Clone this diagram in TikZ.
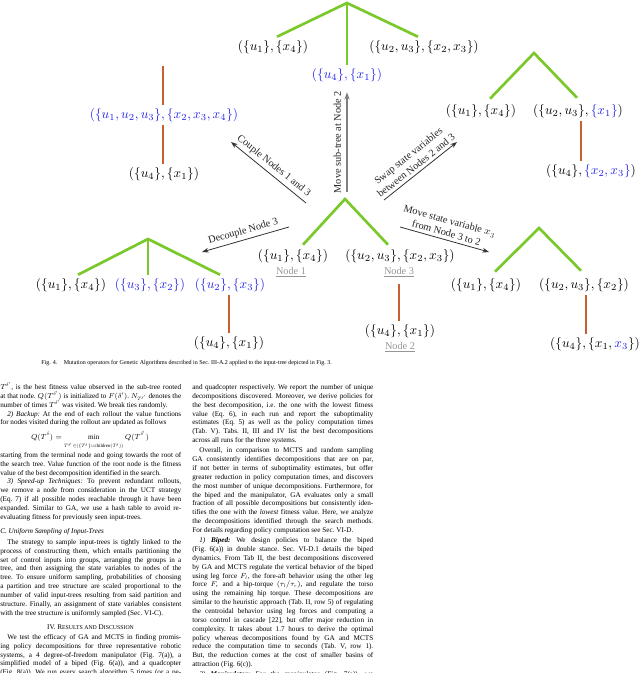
\documentclass[tikz,border=0pt]{standalone}
\usepackage{fontspec}
\setmainfont{Liberation Serif}
\usetikzlibrary{arrows.meta,calc}
\DeclareFontShape{OML}{cmm}{m}{it}{<-10>cmmi7<10->cmmi10}{}
\DeclareFontShape{OMS}{cmsy}{m}{n}{<-10>cmsy7<10->cmsy10}{}
\DeclareFontShape{OT1}{cmr}{m}{n}{<-10>cmr7<10->cmr10}{}
\DeclareMathSizes{5.39}{5.39}{3.6}{2.8}
\definecolor{tgreen}{RGB}{122,200,42}
\definecolor{torange}{RGB}{200,96,50}
\definecolor{tblue}{RGB}{35,35,235}
\definecolor{nodegray}{RGB}{150,150,150}
\newlength\colw \setlength\colw{135.75pt}
\newlength\pind \setlength\pind{5.3pt}
\newcommand\bjl[1]{\hbox to\colw{#1}}
\newcommand\bll[1]{\hbox to\colw{#1\hfil}}
\newcommand\bil[1]{\hbox to\colw{\hskip\pind #1}}
\newcommand\bset{\baselineskip=6.64pt\lineskiplimit=-100pt\lineskip=0pt}
\newcommand\bodyfont{\fontsize{5.39}{6.64}\selectfont\frenchspacing}
\newcommand\fsc[1]{{\fontsize{4.35}{5}\selectfont #1}}
\tikzset{
  mnode/.style={inner sep=2.5pt, font=\fontsize{10}{12}\selectfont},
  bnode/.style={mnode, text=tblue},
  gedge/.style={draw=tgreen, line width=2pt, line join=miter},
  oedge/.style={draw=torange, line width=1.6pt},
  arr/.style={-{Stealth[length=5pt,width=3.6pt]}, line width=0.6pt, draw=black!80},
  varr/.style={-{Stealth[length=5.5pt,width=4pt]}, line width=0.9pt, draw=black!50},
  albl/.style={font=\fontsize{7.7}{9.2}\selectfont, text=black!85, align=center, inner sep=2.5pt},
  nlbl/.style={font=\fontsize{7.7}{9.2}\selectfont, text=nodegray, inner sep=1pt},
  body/.style={inner sep=0pt, font=\bodyfont, anchor=base west},
}
\begin{document}
\begin{tikzpicture}[x=0.75pt, y=-0.75pt]
\fill[white] (0,0) rectangle (640,673);
\useasboundingbox (0,0) rectangle (640,673);

% ---------- top tree (Move sub-tree at Node 2) ----------
\coordinate (A1) at (347,3);
\node[mnode] (n1a) at (273,47) {$(\{u_1\},\{x_4\})$};
\node[bnode] (n1b) at (347,75) {$(\{u_4\},\{x_1\})$};
\node[mnode] (n1c) at (424,47) {$(\{u_2,u_3\},\{x_2,x_3\})$};
\draw[gedge] ($(n1a.north)+(4,0)$) -- (A1) -- ($(n1c.north)+(-6,0)$);
\draw[gedge] (A1) -- (n1b.north);

% ---------- top-left tree (Couple Nodes 1 and 3) ----------
\coordinate (ctop) at (163,66);
\node[bnode] (n2a) at (164,115) {$(\{u_1,u_2,u_3\},\{x_2,x_3,x_4\})$};
\node[mnode] (n2b) at (164,174) {$(\{u_4\},\{x_1\})$};
\draw[oedge] (ctop) -- (ctop |- n2a.north);
\draw[oedge] ($(n2a.south)+(-1,0)$) -- ($(n2b.north)+(-1,0)$);

% ---------- centre tree (input tree) ----------
\coordinate (A3) at (345,199);
\node[mnode] (n3a) at (293,256) {$(\{u_1\},\{x_4\})$};
\node[mnode] (n3b) at (400,256) {$(\{u_2,u_3\},\{x_2,x_3\})$};
\node[nlbl] (nl1) at (291,272) {\underline{Node 1}};
\node[nlbl] (nl3) at (399,272) {\underline{Node 3}};
\node[mnode] (n3c) at (400,331) {$(\{u_4\},\{x_1\})$};
\node[nlbl] (nl2) at (400,347) {\underline{Node 2}};
\draw[gedge] ($(n3a.north)+(10,-1)$) -- (A3) -- ($(n3b.north)+(-12,-1)$);
\draw[oedge] ($(nl3.south)+(0,5)$) -- ($(n3c.north)+(-1,0)$);

% ---------- bottom-left tree (Decouple Node 3) ----------
\coordinate (A4) at (148,239);
\node[mnode] (n4a) at (71,285) {$(\{u_1\},\{x_4\})$};
\node[bnode] (n4b) at (150,285) {$(\{u_3\},\{x_2\})$};
\node[bnode] (n4c) at (230,285) {$(\{u_2\},\{x_3\})$};
\node[mnode] (n4d) at (229,343) {$(\{u_4\},\{x_1\})$};
\draw[gedge] ($(n4a.north)+(7,0)$) -- (A4) -- ($(n4c.north)+(-10,0)$);
\draw[gedge] (A4) -- ($(n4b.north)+(-2,0)$);
\draw[oedge] ($(n4c.south)+(-1,0)$) -- (n4d.north);

% ---------- top-right tree (Swap state variables) ----------
\coordinate (A5) at (534,53);
\node[mnode] (n5a) at (481,111) {$(\{u_1\},\{x_4\})$};
\node[mnode] (n5b) at (578,111) {$(\{u_2,u_3\},{\color{tblue}\{x_1\}})$};
\node[mnode] (n5c) at (591,171) {$(\{u_4\},{\color{tblue}\{x_2,x_3\}})$};
\draw[gedge] ($(n5a.north)+(9,-2)$) -- (A5) -- ($(n5b.north)+(-1,-3)$);
\draw[oedge] ($(n5b.south)+(3,0)$) -- ($(n5b.south |- n5c.north)+(3,0)$);

% ---------- bottom-right tree (Move state variable) ----------
\coordinate (A6) at (539,228);
\node[mnode] (n6a) at (486,285) {$(\{u_1\},\{x_4\})$};
\node[mnode] (n6b) at (584,285) {$(\{u_2,u_3\},\{x_2\})$};
\node[mnode] (n6c) at (595,344) {$(\{u_4\},\{x_1,{\color{tblue}x_3}\})$};
\draw[gedge] ($(n6a.north)+(9,-3)$) -- (A6) -- ($(n6b.north)+(-3,-4)$);
\draw[oedge] ($(n6b.south)+(2,0)$) -- ($(n6b.south |- n6c.north)+(2,0)$);

% ---------- mutation arrows ----------
\coordinate (cpS) at (306,203); \coordinate (cpE) at (231,142);
\coordinate (swS) at (384,200); \coordinate (swE) at (457,142);
\coordinate (dcS) at (289,227); \coordinate (dcE) at (202,252);
\coordinate (mvS) at (400,227); \coordinate (mvE) at (489,252);
\coordinate (vtS) at ($(n1b.south |- A3)+(0,-7)$);
\coordinate (vtE) at ($(n1b.south)+(0,7)$);

\draw[varr] (vtS) -- (vtE) node[midway, albl, rotate=90, anchor=south, inner sep=4pt] {Move sub-tree at Node 2};
\draw[arr] (cpS) -- (cpE);
\path (cpS) -- (cpE) node[midway, albl, rotate=-39.1, anchor=south] {Couple Nodes 1 and 3};
\draw[arr] (swS) -- (swE);
\path (swS) -- (swE) node[midway, albl, rotate=38.5, anchor=south] {Swap state variables\\between Nodes 2 and 3};
\draw[arr] (dcS) -- (dcE);
\path (dcS) -- (dcE) node[midway, albl, rotate=16, anchor=south] {Decouple Node 3};
\draw[arr] (mvS) -- (mvE);
\path (mvS) -- (mvE) node[midway, albl, rotate=-15.7, anchor=south] {Move state variable $x_3$\\from Node 3 to 2};

% ---------- caption ----------
\node[inner sep=0pt, anchor=base west, font=\fontsize{4.5}{5}\selectfont] (cap) at (41,364.5)
  {Fig. 4.\hspace{1.1em}Mutation operators for Genetic Algorithms described in Sec.~III-A.2 applied to the input-tree depicted in Fig.~3.};

% ---------- left column ----------
\node[body] (lA) at (0,389.5) {\vtop{\bset
\bjl{$T^{\delta'}$, is the best fitness value observed in the sub-tree rooted}
\bjl{at that node. $Q(T^{\delta'})$ is initialized to $F(\delta')$. $N_{T^{\delta'}}$ denotes the}
\bll{number of times $T^{\delta'}$ was visited. We break ties randomly.}
\bil{\textit{2) Backup:} At the end of each rollout the value functions}
\bll{for nodes visited during the rollout are updated as follows}}};
\node[body, anchor=base] (lEq) at (90,439.5)
  {$\displaystyle Q(T^{\delta}) = \min_{T^{\delta'}\in(\{T^{\delta}\}\cup\mathrm{children}(T^{\delta}))} Q(T^{\delta'})$};
\node[body] (lB) at (0,457.4) {\vtop{\bset
\bjl{starting from the terminal node and going towards the root of}
\bjl{the search tree. Value function of the root node is the fitness}
\bll{value of the best decomposition identified in the search.}
\bil{\textit{3) Speed-up Techniques:} To prevent redundant rollouts,}
\bjl{we remove a node from consideration in the UCT strategy}
\bjl{(Eq. 7) if all possible nodes reachable through it have been}
\bjl{expanded. Similar to GA, we use a hash table to avoid re-}
\bll{evaluating fitness for previously seen input-trees.}}};
\node[body] (lHC) at (0,533.4) {\textit{C. Uniform Sampling of Input-Trees}};
\node[body] (lC) at (0,544.4) {\vtop{\bset
\bil{The strategy to sample input-trees is tightly linked to the}
\bjl{process of constructing them, which entails partitioning the}
\bjl{set of control inputs into groups, arranging the groups in a}
\bjl{tree, and then assigning the state variables to nodes of the}
\bjl{tree. To ensure uniform sampling, probabilities of choosing}
\bjl{a partition and tree structure are scaled proportional to the}
\bjl{number of valid input-trees resulting from said partition and}
\bjl{structure. Finally, an assignment of state variables consistent}
\bll{with the tree structure is uniformly sampled (Sec. VI-C).}}};
\node[body, anchor=base] (lHIV) at (90.5,629.4) {IV. R\fsc{ESULTS AND} D\fsc{ISCUSSION}};
\node[body] (lD) at (0,639.4) {\vtop{\bset
\bil{We test the efficacy of GA and MCTS in finding promis-}
\bjl{ing policy decompositions for three representative robotic}
\bjl{systems, a 4 degree-of-freedom manipulator (Fig. 7(a)), a}
\bjl{simplified model of a biped (Fig. 6(a)), and a quadcopter}
\bjl{(Fig. 8(a)). We run every search algorithm 5 times (or a pe-}}};

% ---------- right column ----------
\node[body] (rA) at (192,389.5) {\vtop{\bset
\bjl{and quadcopter respectively. We report the number of unique}
\bjl{decompositions discovered. Moreover, we derive policies for}
\bjl{the best decomposition, i.e. the one with the lowest fitness}
\bjl{value (Eq. 6), in each run and report the suboptimality}
\bjl{estimates (Eq. 5) as well as the policy computation times}
\bjl{(Tab. V). Tabs. II, III and IV list the best decompositions}
\bll{across all runs for the three systems.}
\vskip1pt
\bil{Overall, in comparison to MCTS and random sampling}
\bjl{GA consistently identifies decompositions that are on par,}
\bjl{if not better in terms of suboptimality estimates, but offer}
\bjl{greater reduction in policy computation times, and discovers}
\bjl{the most number of unique decompositions. Furthermore, for}
\bjl{the biped and the manipulator, GA evaluates only a small}
\bjl{fraction of all possible decompositions but consistently iden-}
\bjl{tifies the one with the \textit{lowest} fitness value. Here, we analyze}
\bjl{the decompositions identified through the search methods.}
\bll{For details regarding policy computation see Sec. VI-D.}
\vskip1pt
\bil{\textit{1) \textbf{Biped:}} We design policies to balance the biped}
\bjl{(Fig. 6(a)) in double stance. Sec. VI-D.1 details the biped}
\bjl{dynamics. From Tab II, the best decompositions discovered}
\bjl{by GA and MCTS regulate the vertical behavior of the biped}
\bjl{using leg force $F_l$, the fore-aft behavior using the other leg}
\bjl{force $F_r$ and a hip-torque $(\tau_l/\tau_r)$, and regulate the torso}
\bjl{using the remaining hip torque. These decompositions are}
\bjl{similar to the heuristic approach (Tab. II, row 5) of regulating}
\bjl{the centroidal behavior using leg forces and computing a}
\bjl{torso control in cascade [22], but offer major reduction in}
\bjl{complexity. It takes about 1.7 hours to derive the optimal}
\bjl{policy whereas decompositions found by GA and MCTS}
\bjl{reduce the computation time to seconds (Tab. V, row 1).}
\bjl{But, the reduction comes at the cost of smaller basins of}
\bll{attraction (Fig. 6(c)).}
\vskip1pt
\bil{\textit{2) \textbf{Manipulator:}} For the manipulator (Fig. 7(a)), we}}};
\end{tikzpicture}
\end{document}
